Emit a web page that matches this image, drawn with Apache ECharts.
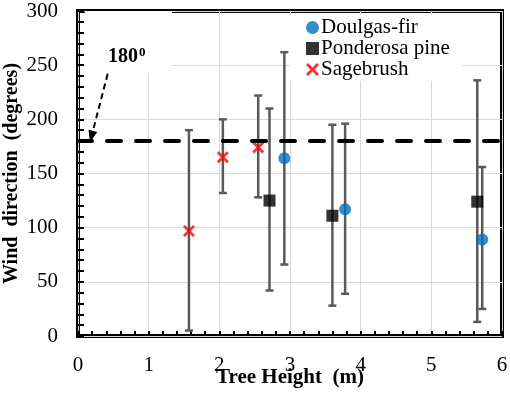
<!DOCTYPE html>
<html>
<head>
<meta charset="utf-8">
<script src="https://cdn.jsdelivr.net/npm/echarts@6/dist/echarts.min.js"></script>
<style>
  html, body { margin: 0; background: #fff; }
  #chart { width: 510px; height: 394px; }
</style>
</head>
<body>
<div id="chart"></div>
<script>
// values
const dougX  = [2.92, 3.78, 5.72]
const dougY  = [164, 117, 89]
const dougLo = [66, 39, 25]
const dougHi = [262, 196, 156]

const pineX  = [2.71, 3.60, 5.65]
const pineY  = [125, 111, 124]
const pineLo = [42, 28, 13]
const pineHi = [210, 195, 236]

const sageX  = [1.57, 2.05, 2.55]
const sageY  = [97, 165, 174]
const sageLo = [5, 132, 128]
const sageHi = [190, 200, 222]

const refDirection = 180
const arrowFrom = [0.42, 242]
const arrowTo   = [0.19, 184]

const FONT = '"Liberation Serif", "Times New Roman", serif'
const CROSS = 'path://M0,1.6L1.6,0L5,3.4L8.4,0L10,1.6L6.6,5L10,8.4L8.4,10L5,6.6L1.6,10L0,8.4L3.4,5Z'

const pts  = (xs, ys) => xs.map((x, i) => [x, ys[i]])
const bars = (xs, lo, hi) => xs.map((x, i) => [x, lo[i], hi[i]])

const chart = echarts.init(document.getElementById('chart'))

const errorSeries = (data) => ({
  type: 'custom',
  data,
  encode: { x: 0, y: [1, 2] },
  z: 1,
  silent: true,
  renderItem: (params, api) => {
    const x = api.value(0)
    const top = api.coord([x, api.value(2)])
    const bot = api.coord([x, api.value(1)])
    const w = 4
    const style = { stroke: '#595959', lineWidth: 2.5 }
    return {
      type: 'group',
      children: [
        { type: 'line', shape: { x1: top[0], y1: top[1], x2: bot[0], y2: bot[1] }, style },
        { type: 'line', shape: { x1: top[0] - w, y1: top[1], x2: top[0] + w, y2: top[1] }, style },
        { type: 'line', shape: { x1: bot[0] - w, y1: bot[1], x2: bot[0] + w, y2: bot[1] }, style },
      ],
    }
  },
})

const option = {
  animation: false,
  backgroundColor: '#fff',
  textStyle: { fontFamily: FONT },
  grid: {
    left: 78, right: 8, top: 11, bottom: 58,
    outerBoundsMode: 'none', containLabel: false,
    show: true, borderColor: '#000', borderWidth: 4,
  },
  legend: {
    data: ['Doulgas-fir', 'Ponderosa pine', 'Sagebrush'],
    orient: 'vertical',
    left: 290, top: 15,
    padding: [2, 12, 1, 16],
    itemGap: 0, itemWidth: 13, itemHeight: 13,
    backgroundColor: '#fff',
    textStyle: { fontFamily: FONT, fontSize: 21, color: '#000', padding: [0, 0, 0, -3] },
  },
  xAxis: {
    type: 'value', min: 0, max: 6, interval: 1,
    name: 'Tree Height  (m)', nameLocation: 'middle', nameGap: 31, nameMoveOverlap: false,
    nameTextStyle: { fontFamily: FONT, fontSize: 21, fontWeight: 'bold', color: '#000' },
    axisLine: { show: false },
    axisTick: { show: true, inside: true, length: 5, lineStyle: { color: '#000', width: 2 } },
    minorTick: { show: true, splitNumber: 5, length: 5, lineStyle: { color: '#000', width: 2 } },
    axisLabel: { fontFamily: FONT, fontSize: 21, color: '#000', margin: 19 },
    splitLine: { show: true, lineStyle: { color: '#d9d9d9', width: 1 } },
  },
  yAxis: {
    type: 'value', min: 0, max: 300, interval: 50,
    name: 'Wind  direction  (degrees)', nameLocation: 'middle', nameGap: 56, nameMoveOverlap: false,
    nameTextStyle: { fontFamily: FONT, fontSize: 20, fontWeight: 'bold', color: '#000' },
    axisLine: { show: false },
    axisTick: { show: true, inside: true, length: 6, lineStyle: { color: '#000', width: 2 } },
    minorTick: { show: true, splitNumber: 5, length: 6, lineStyle: { color: '#000', width: 2 } },
    axisLabel: { fontFamily: FONT, fontSize: 21, color: '#000', margin: 20 },
    splitLine: { show: true, lineStyle: { color: '#d9d9d9', width: 1 } },
  },
  graphic: [{
    type: 'text', left: 108, top: 46, z: 10,
    style: {
      text: '{b|180}{s|0}', fill: '#000',
      rich: {
        b: { fontFamily: FONT, fontSize: 20, fontWeight: 'bold', verticalAlign: 'bottom' },
        s: { fontFamily: FONT, fontSize: 13, fontWeight: 'bold', verticalAlign: 'top', padding: [0, 0, 8, 1] },
      },
    },
  }],
  series: [
    // white box behind the 180 annotation
    {
      type: 'line', data: [], z: 1, silent: true,
      markArea: {
        silent: true,
        itemStyle: { color: '#fff' },
        data: [[{ coord: [0.1, 243] }, { coord: [1.33, 300] }]],
      },
    },
    errorSeries(bars(dougX, dougLo, dougHi)),
    errorSeries(bars(pineX, pineLo, pineHi)),
    errorSeries(bars(sageX, sageLo, sageHi)),
    {
      type: 'line', data: [], z: 2, silent: true,
      markLine: {
        silent: true, animation: false,
        label: { show: false },
        data: [
          [{ coord: [0, refDirection], symbol: 'none' }, { coord: [6, refDirection], symbol: 'none',
            lineStyle: { color: '#000', width: 4, type: [14, 15], cap: 'round' } }],
          [{ coord: arrowFrom, symbol: 'none' }, { coord: arrowTo, symbol: 'triangle', symbolSize: [9, 12],
            lineStyle: { color: '#000', width: 2, type: [6, 4], curveness: -0.08 } }],
        ],
      },
    },
    {
      name: 'Doulgas-fir', type: 'scatter', data: pts(dougX, dougY), z: 3,
      symbol: 'circle', symbolSize: 12, itemStyle: { color: '#0070C0' },
    },
    {
      name: 'Ponderosa pine', type: 'scatter', data: pts(pineX, pineY), z: 3,
      symbol: 'rect', symbolSize: 12, itemStyle: { color: '#000' },
    },
    {
      name: 'Sagebrush', type: 'scatter', data: pts(sageX, sageY), z: 3,
      symbol: CROSS, symbolSize: 12, itemStyle: { color: '#FF0000' },
    },
  ],
}

chart.setOption(option)
</script>
</body>
</html>
